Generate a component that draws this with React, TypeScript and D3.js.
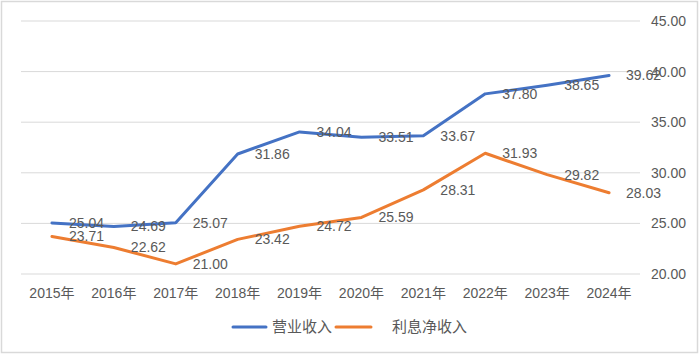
import React from "react";
import * as d3 from "d3";

const categories = ["2015年","2016年","2017年","2018年","2019年","2020年","2021年","2022年","2023年","2024年"];
const revenue = [25.04, 24.69, 25.07, 31.86, 34.04, 33.51, 33.67, 37.80, 38.65, 39.62];
const netInterest = [23.71, 22.62, 21.00, 23.42, 24.72, 25.59, 28.31, 31.93, 29.82, 28.03];
const yTicks = [20, 25, 30, 35, 40, 45];
const seriesNames = ["营业收入", "利息净收入"];
const colors = ["#4472C4", "#ED7D31"];

const W = 700, H = 355;
const plotLeft = 21, plotRight = 640;
const FONT = "'Liberation Sans', 'Noto Sans CJK SC', sans-serif";
const TEXT = "#595959";

export default function App() {
  const x = d3.scaleBand<string>().domain(categories).range([plotLeft, plotRight]);
  const y = d3.scaleLinear().domain([20, 45]).range([274, 21]);
  const cx = (c: string) => (x(c) as number) + x.bandwidth() / 2;
  const line = d3.line<number>().x((_, i) => cx(categories[i])).y((d) => y(d));
  const series = [revenue, netInterest];

  return (
    <svg width={W} height={H} style={{ position: "absolute", left: 0, top: 0, background: "#fff" }} fontFamily={FONT}>
      <rect x={1.5} y={1.5} width={W - 4} height={H - 4} fill="#fff" stroke="#d9d9d9" strokeWidth={1.5} />
      {yTicks.map((t) => (
        <g key={t}>
          <line x1={plotLeft} x2={plotRight} y1={y(t)} y2={y(t)} stroke="#d9d9d9" strokeWidth={1} />
          <text x={651} y={y(t)} dy="0.35em" fontSize={14} fill={TEXT}>{t.toFixed(2)}</text>
        </g>
      ))}
      {categories.map((c) => (
        <text key={c} x={cx(c)} y={293} dy="0.35em" textAnchor="middle" fontSize={14} fill={TEXT}>{c}</text>
      ))}
      {series.map((s, k) => (
        <path key={k} d={line(s) || ""} fill="none" stroke={colors[k]} strokeWidth={3} strokeLinejoin="round" strokeLinecap="round" />
      ))}
      {series.map((s, k) =>
        s.map((v, i) => (
          <text key={`${k}-${i}`} x={cx(categories[i]) + 17} y={y(v)} dy="0.35em" fontSize={14} fill={TEXT}>{v.toFixed(2)}</text>
        ))
      )}
      <g>
        <line x1={233} x2={266} y1={327} y2={327} stroke={colors[0]} strokeWidth={3} strokeLinecap="round" />
        <text x={272} y={327} dy="0.35em" fontSize={15} fill={TEXT}>{seriesNames[0]}</text>
        <line x1={336} x2={371} y1={327} y2={327} stroke={colors[1]} strokeWidth={3} strokeLinecap="round" />
        <text x={392} y={327} dy="0.35em" fontSize={15} fill={TEXT}>{seriesNames[1]}</text>
      </g>
    </svg>
  );
}
